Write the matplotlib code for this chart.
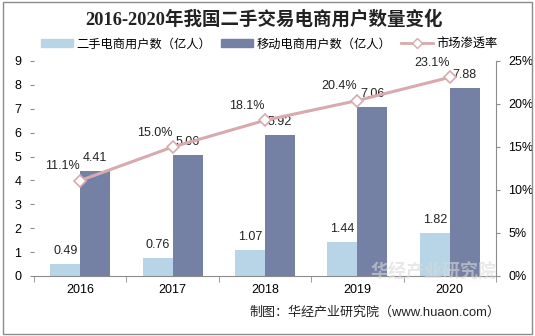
import matplotlib
matplotlib.use("Agg")
import matplotlib.pyplot as plt
from matplotlib.patches import Rectangle
from matplotlib.lines import Line2D
from matplotlib.patches import Patch

plt.rcParams['font.family'] = ['Liberation Sans', 'Noto Sans CJK SC']

years = ['2016', '2017', '2018', '2019', '2020']
second_hand_users = [0.49, 0.76, 1.07, 1.44, 1.82]
mobile_users = [4.41, 5.06, 5.92, 7.06, 7.88]
penetration = [11.1, 15.0, 18.1, 20.4, 23.1]

c_light = '#b7d5e6'
c_dark = '#7481a5'
c_line = '#d8a9ad'

fig = plt.figure(figsize=(5.35, 3.36), dpi=100)
fig.patches.append(Rectangle((0.006, 0.006), 0.988, 0.988, transform=fig.transFigure,
                             fill=False, edgecolor='#8c8c8c', linewidth=1.0))

ax = fig.add_axes([0.0636, 0.1786, 0.8634, 0.6399])
ax2 = ax.twinx()

x = list(range(len(years)))
w = 0.325
ax.bar([i - w / 2 for i in x], second_hand_users, width=w, color=c_light, zorder=2)
ax.bar([i + w / 2 for i in x], mobile_users, width=w, color=c_dark, zorder=2)

for i, v in enumerate(second_hand_users):
    ax.annotate(f'{v:.2f}', (i - w / 2, v), xytext=(0, 5), textcoords='offset points',
                ha='center', va='bottom', fontsize=9, color='#222222')
for i, v in enumerate(mobile_users):
    ax.annotate(f'{v:.2f}', (i + w / 2, v), xytext=(0, 5), textcoords='offset points',
                ha='center', va='bottom', fontsize=9, color='#222222')

ax2.plot(x, penetration, color=c_line, linewidth=2.2, marker='D', markersize=6,
         markerfacecolor='white', markeredgecolor=c_line, markeredgewidth=1.2, zorder=5)
for i, v in enumerate(penetration):
    ax2.annotate(f'{v:.1f}%', (i, v), xytext=(-13, 6), textcoords='offset points',
                 ha='center', va='bottom', fontsize=9, color='#222222')

ax.set_xlim(-0.5, 4.5)
ax.set_ylim(0, 9)
ax.set_yticks(range(0, 10))
ax2.set_ylim(0, 25)
ax2.set_yticks(range(0, 26, 5))
ax2.set_yticklabels([f'{t}%' for t in range(0, 26, 5)])
ax.set_xticks(x)
ax.set_xticklabels(years)

for a in (ax, ax2):
    a.spines['top'].set_visible(False)
    a.spines['left'].set_visible(False)
ax.spines['right'].set_visible(False)
ax2.spines['right'].set_color('#8c8c8c')
ax2.spines['bottom'].set_visible(False)
ax.spines['bottom'].set_color('#8c8c8c')

ax.tick_params(axis='y', length=3, color='#8c8c8c', labelsize=9, pad=6)
ax2.tick_params(axis='y', length=3, color='#8c8c8c', labelsize=9, pad=6)
ax.tick_params(axis='x', length=0, labelsize=9, pad=6)
# minor ticks between categories
ax.set_xticks([i + 0.5 for i in range(-1, 5)], minor=True)
ax.tick_params(axis='x', which='minor', length=4, color='#8c8c8c')

fig.text(0.493, 0.942, '2016-2020年我国二手交易电商用户数量变化', ha='center', va='center',
         fontsize=13.3, fontweight='bold', family=['Liberation Serif', 'Noto Sans CJK SC'],
         color='#222222')

handles = [Patch(color=c_light), Patch(color=c_dark),
           Line2D([], [], color=c_line, linewidth=2, marker='D', markersize=5,
                  markerfacecolor='white', markeredgecolor=c_line)]
labels = ['二手电商用户数（亿人）', '移动电商用户数（亿人）', '市场渗透率']
fig.legend(handles, labels, loc='center', bbox_to_anchor=(0.503, 0.868), ncol=3,
           frameon=False, fontsize=8.8, handlelength=2.6, handleheight=0.6,
           columnspacing=0.8, handletextpad=0.3)

fig.text(0.935, 0.07, '制图：华经产业研究院（www.huaon.com）', ha='right', va='center',
         fontsize=9.4, color='#222222')

# faint watermark
fig.text(0.81, 0.188, '华经产业研究院', ha='center', va='center', fontsize=13,
         fontweight='bold', color='#dadada', alpha=0.6, zorder=0)

fig.savefig('out.png', dpi=100)
